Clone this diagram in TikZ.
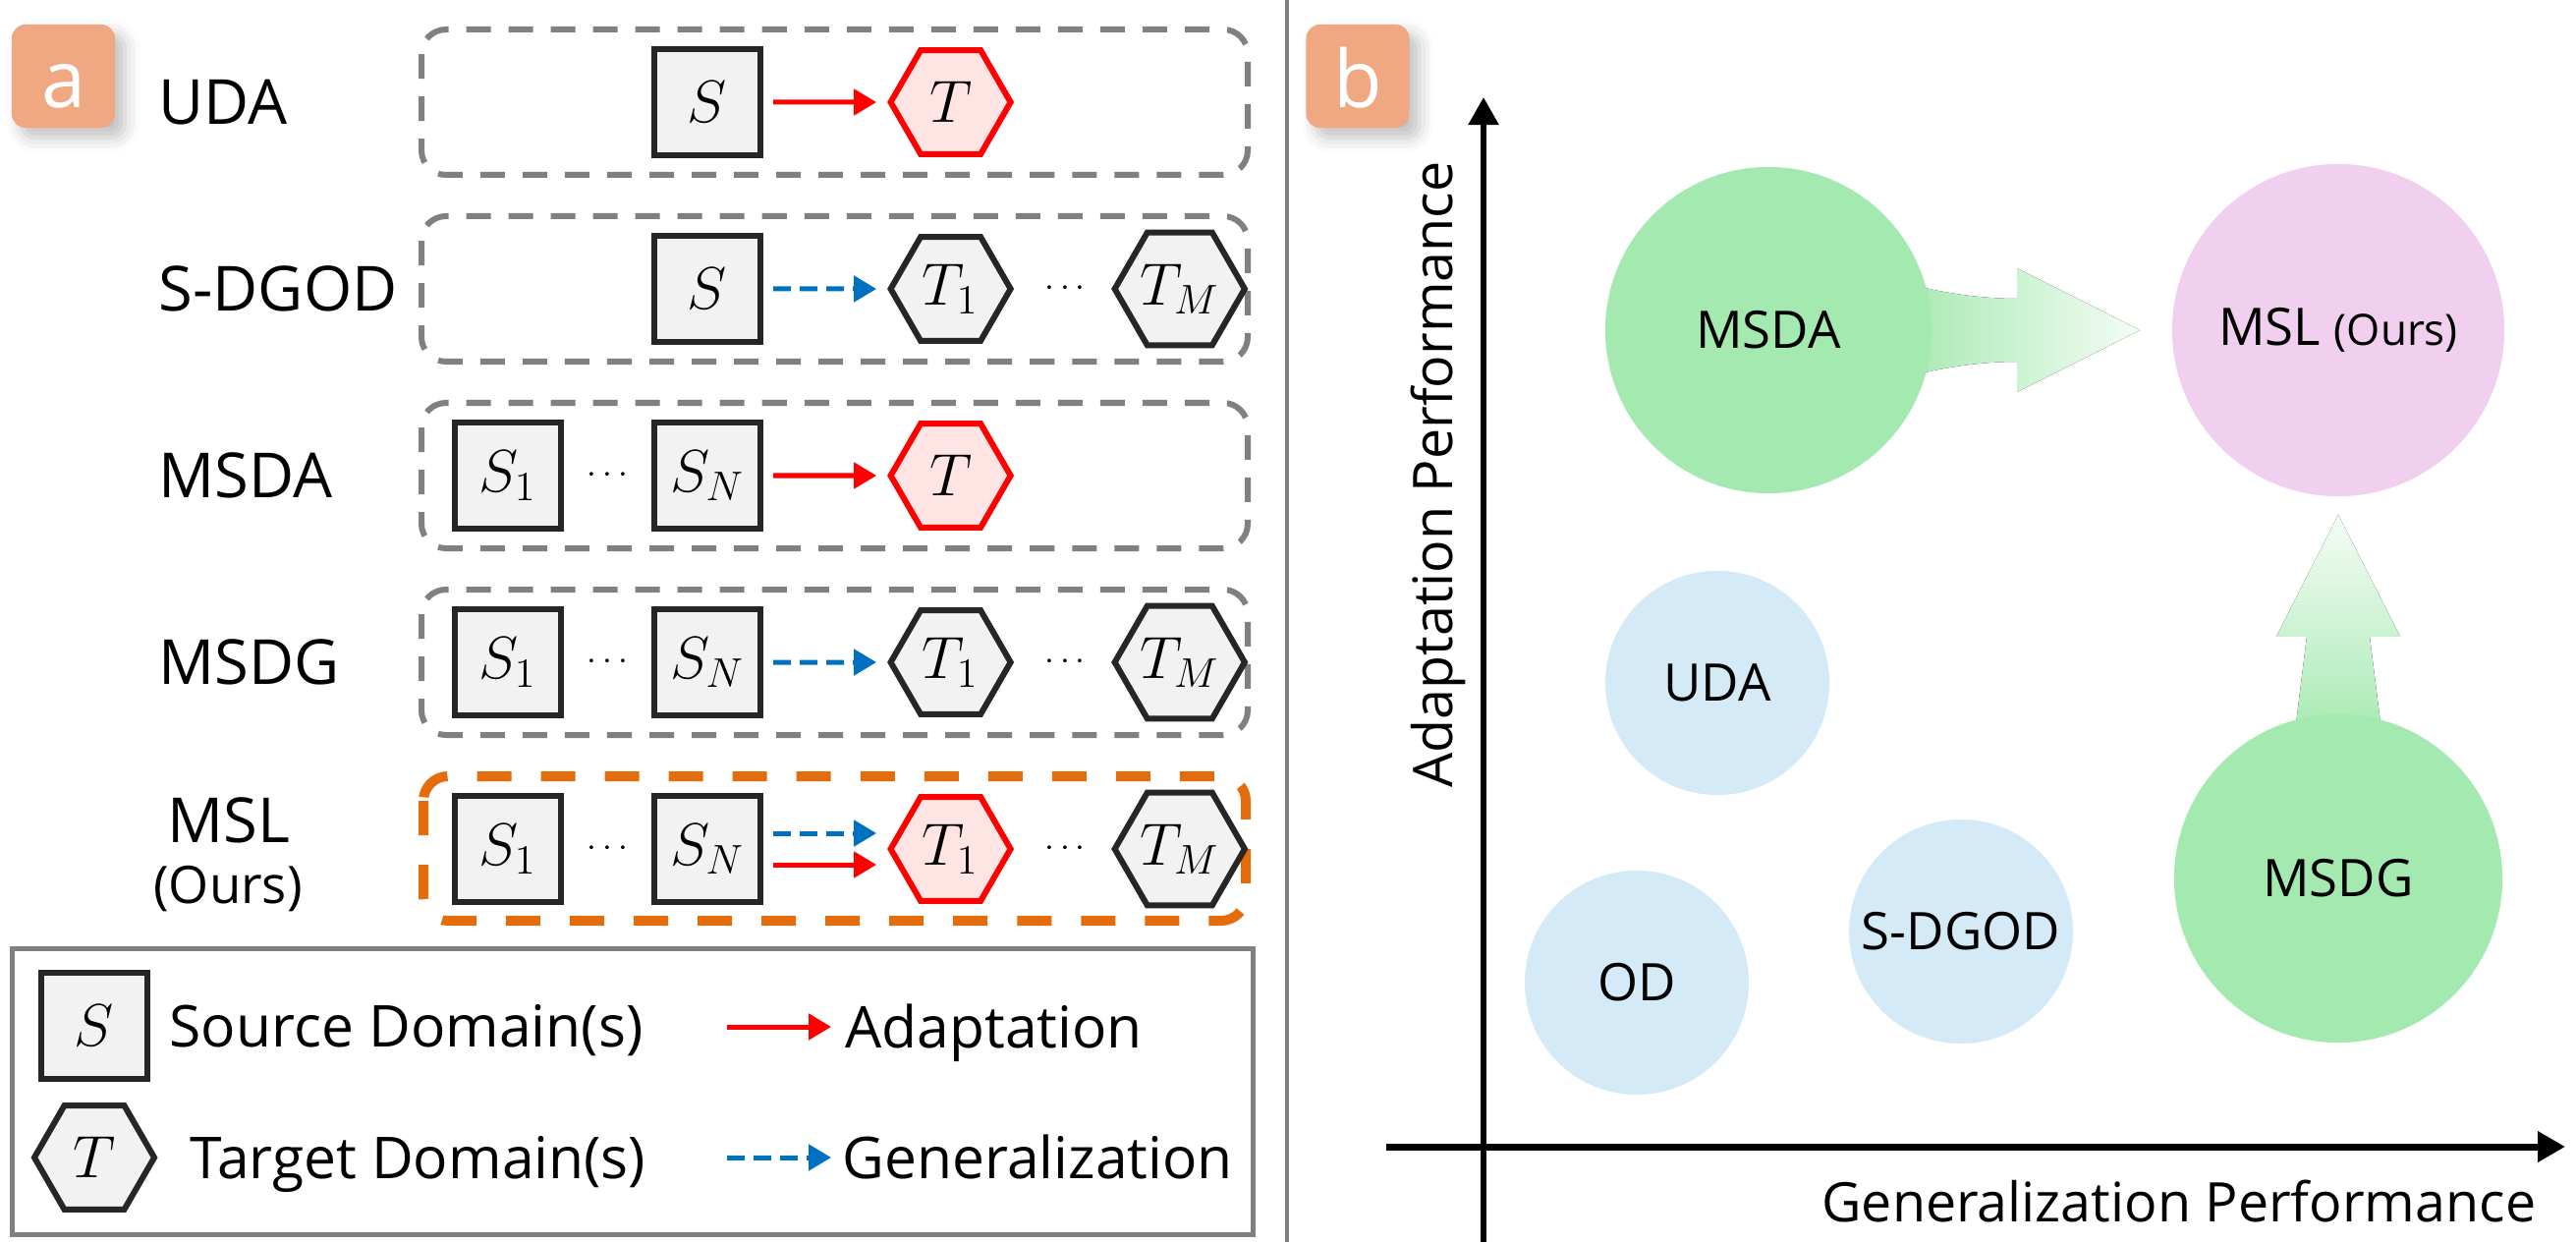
\documentclass[tikz,border=0pt]{standalone}
\usepackage{fontspec}
\setmainfont{Open Sans}
\usetikzlibrary{calc,positioning,arrows.meta,shapes.geometric,backgrounds,shadows.blur}

\definecolor{edgegray}{RGB}{38,38,38}
\definecolor{fillgray}{RGB}{242,242,242}
\definecolor{hexred}{RGB}{255,228,228}
\definecolor{genblue}{RGB}{0,112,192}
\definecolor{mslorange}{RGB}{228,108,10}
\definecolor{badgeorange}{RGB}{240,168,130}
\definecolor{mgreen}{RGB}{164,233,175}
\definecolor{mpink}{RGB}{240,208,238}
\definecolor{mblue}{RGB}{212,234,247}

\tikzset{
>={Triangle[length=0.23cm,width=0.26cm]},
  srcbox/.style={
    rectangle,
    draw=edgegray, fill=fillgray,
    line width=0.06cm,
    minimum width=1.08cm,
    minimum height=1.07cm,
    inner sep=0pt,
    font=\fontsize{17}{20}\selectfont},
  tgthex/.style={
    regular polygon, regular polygon sides=6,
    draw=edgegray, fill=fillgray,
    line width=0.06cm,
    minimum size=1.22cm,
    inner sep=0pt,
    font=\fontsize{17}{20}\selectfont},
  tgtred/.style={tgthex, draw=red, fill=hexred},
  adapt/.style={draw=red, line width=0.05cm, ->, shorten <=0.1cm, shorten >=0.11cm},
  gen/.style={adapt, draw=genblue, dash pattern=on 0.18cm off 0.09cm},
  rowbox/.style={draw=gray, line width=0.06cm, rounded corners=0.25cm,
    dash pattern=on 0.25cm off 0.18cm},
  mslbox/.style={draw=mslorange, line width=0.1cm, rounded corners=0.25cm,
    dash pattern=on 0.35cm off 0.3cm},
  rowlabel/.style={anchor=west, inner sep=0pt, text height=0.45cm, text depth=0pt,
    font=\fontsize{18}{21}\selectfont},
  oursnote/.style={inner sep=0pt, font=\fontsize{15}{18}\selectfont},
  dotsnode/.style={inner sep=0pt, font=\fontsize{10}{12}\selectfont},
  legtext/.style={inner sep=0pt, text height=0.42cm, text depth=0pt,
    font=\fontsize{16.7}{20}\selectfont},
  badge/.style={
    rectangle, rounded corners=0.14cm,
    fill=badgeorange, text=white,
    minimum size=1.05cm, inner sep=0pt,
    text height=0.64cm, text depth=0pt,
    font=\fontsize{23}{26}\selectfont,
    blur shadow={shadow xshift=0.1cm, shadow yshift=-0.1cm,
      shadow blur radius=0.15cm, shadow opacity=25}},
  bubble/.style={circle, inner sep=0pt, font=\fontsize{15}{18}\selectfont},
  axis/.style={draw=black, line width=0.07cm, -{Triangle[length=0.28cm,width=0.3cm]}},
  axlabel/.style={inner sep=0pt, font=\fontsize{15.8}{19}\selectfont},
}

\begin{document}
\begin{tikzpicture}
  [x=0.01cm, y=-0.01cm,
  node distance=0.89cm]
  \useasboundingbox (0,0) rectangle (2622,1264);

  % divider between the two panels
  \draw[gray, line width=0.035cm] (1310,0) -- (1310,1264);

  %% Panel a: the five settings
  \node[badge] (bada) at (64.5,77.5) {a};
  \foreach \y in {104,294,484,674}
    \draw[rowbox] (429,\y-74) rectangle (1270,\y+74);
  \draw[mslbox] (431,790) rectangle (1268,937);

  % UDA
  \node[rowlabel] (lblUDA) at (161,104) {UDA};
  \node[srcbox] (udaS) at (720,104) {$S$};
  \node[tgtred, right=1.26cm of udaS] (udaT) {$T$};
  \draw[adapt] (udaS) -- (udaT);

  % S-DGOD
  \node[rowlabel] (lblSDG) at (161,294) {S-DGOD};
  \node[srcbox] (sdgS) at (720,294) {$S$};
  \node[tgthex, right=1.26cm of sdgS] (sdgT1) {$T_1$};
  \node[tgthex, right=0.99cm of sdgT1] (sdgTM) {$T_M$};
  \node[dotsnode] (sdgDots) at ($(sdgT1)!0.5!(sdgTM)$) {$\cdots$};
  \draw[gen] (sdgS) -- (sdgT1);

  % MSDA
  \node[rowlabel] (lblMSDA) at (161,484) {MSDA};
  \node[srcbox] (msdaSN) at (720,484) {$S_N$};
  \node[srcbox, left=of msdaSN] (msdaS1) {$S_1$};
  \node[dotsnode] (msdaDots) at ($(msdaS1)!0.5!(msdaSN)$) {$\cdots$};
  \node[tgtred, right=1.26cm of msdaSN] (msdaT) {$T$};
  \draw[adapt] (msdaSN) -- (msdaT);

  % MSDG
  \node[rowlabel] (lblMSDG) at (161,674) {MSDG};
  \node[srcbox] (msdgSN) at (720,674) {$S_N$};
  \node[srcbox, left=of msdgSN] (msdgS1) {$S_1$};
  \node[dotsnode] (msdgDots) at ($(msdgS1)!0.5!(msdgSN)$) {$\cdots$};
  \node[tgthex, right=1.26cm of msdgSN] (msdgT1) {$T_1$};
  \node[tgthex, right=0.99cm of msdgT1] (msdgTM) {$T_M$};
  \node[dotsnode] (msdgDotsT) at ($(msdgT1)!0.5!(msdgTM)$) {$\cdots$};
  \draw[gen] (msdgSN) -- (msdgT1);

  % MSL (ours): both adaptation and generalization
  \node[rowlabel, anchor=center] (lblMSL) at (233,835) {MSL};
  \node[oursnote] (lblOurs) at (232,905) {(Ours)};
  \node[srcbox] (mslSN) at (720,864) {$S_N$};
  \node[srcbox, left=of mslSN] (mslS1) {$S_1$};
  \node[dotsnode] (mslDots) at ($(mslS1)!0.5!(mslSN)$) {$\cdots$};
  \node[tgtred, right=1.26cm of mslSN] (mslT1) {$T_1$};
  \node[tgthex, right=0.99cm of mslT1] (mslTM) {$T_M$};
  \node[dotsnode] (mslDotsT) at ($(mslT1)!0.5!(mslTM)$) {$\cdots$};
  \draw[gen] ($(mslSN.east)+(0,-16)$) -- ($(mslT1.west)+(0,-16)$);
  \draw[adapt] ($(mslSN.east)+(0,16)$) -- ($(mslT1.west)+(0,16)$);

  % legend
  \draw[gray, line width=0.05cm] (12.5,965.5) rectangle (1275.5,1256.5);
  \node[srcbox] (legS) at (96,1044) {$S$};
  \node[tgthex] (legT) at (96,1178) {$T$};
  \node[legtext, right=0.19cm of legS] (legSrc) {Source Domain(s)};
  \node[legtext, right=0.32cm of legT] (legTgt) {Target Domain(s)};
  \coordinate (legA0) at (740,1045);
  \coordinate (legA1) at (846,1045);
  \coordinate (legG0) at (740,1178);
  \coordinate (legG1) at (846,1178);
  \draw[adapt, shorten <=0pt, shorten >=0pt] (legA0) -- (legA1);
  \draw[gen, shorten <=0pt, shorten >=0pt] (legG0) -- (legG1);
  \node[legtext, anchor=west, right=0.14cm of legA1] (legAd) {Adaptation};
  \node[legtext, anchor=west, right=0.11cm of legG1] (legGen) {Generalization};

  %% Panel b: adaptation vs. generalization
  \node[badge] (badb) at (1382,77.5) {b};
  \coordinate (yaxB) at (1510,1264);
  \coordinate (yaxT) at (1510,99);
  \coordinate (xaxL) at (1411,1167);
  \coordinate (xaxR) at (2611,1167);
  \draw[axis, line width=0.055cm] (yaxB) -- (yaxT);
  \draw[axis] (xaxL) -- (xaxR);
  \node[axlabel, rotate=90, anchor=base] (ylab) at (1478,483) {Adaptation Performance};
  \node[axlabel, anchor=east] (xlab) at (2582,1222) {Generalization Performance};

  \node[bubble, fill=mgreen, minimum size=3.32cm] (msda) at (1800,336) {MSDA};
  \node[bubble, fill=mpink, minimum size=3.38cm] (msl) at (2380,336)
    {MSL {\fontsize{12.5}{15}\selectfont(Ours)}};
  \node[bubble, fill=mgreen, minimum size=3.34cm] (msdg) at (2380,894) {MSDG};
  \node[bubble, fill=mblue, minimum size=2.28cm] (uda) at (1748,695) {UDA};
  \node[bubble, fill=mblue, minimum size=2.28cm] (od) at (1666,1000) {OD};
  \node[bubble, fill=mblue, minimum size=2.28cm] (sdgod) at (1996,948) {S-DGOD};

  % the two fading arrows go behind the circles
  \begin{scope}[on background layer]
    \fill[left color=mgreen, right color=mgreen!12]
      ($(msl.west)+(-32,0)$) coordinate (hTip) -- ++(-125,-63) -- ++(0,31)
      .. controls +(-45,0) and +(30,11) .. ++(-125,-20) -- ++(0,104)
      .. controls +(30,-11) and +(-45,0) .. ++(125,-20) -- ++(0,31) -- cycle;
    \fill[top color=mgreen!12, bottom color=mgreen]
      ($(msl.south)+(0,18)$) coordinate (vTip) -- ++(63,124) -- ++(-31,0)
      -- ++(14,113) -- ++(-92,0) -- ++(14,-113) -- ++(-31,0) -- cycle;
  \end{scope}
\end{tikzpicture}
\end{document}
